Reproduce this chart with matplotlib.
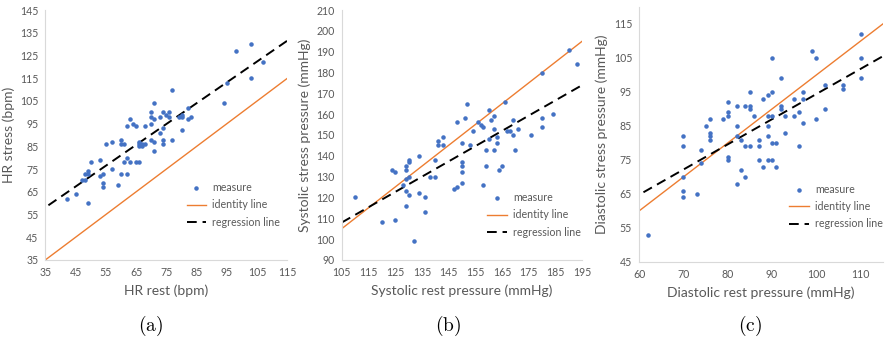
"""
Stress vs rest scatter plots for HR, systolic and diastolic pressure.
"""

import matplotlib
matplotlib.use('Agg')
import matplotlib.pyplot as plt
import numpy as np

# Panel (a): heart rate [bpm]
# ----------------------------------------------------------------------------

hr_rest = [42, 45, 47, 48, 48, 49, 49, 49, 50, 53, 53, 54, 54, 54, 55, 57, 57,
           59, 60, 60, 60, 61, 61, 62, 62, 62, 63, 63, 64, 65, 65, 66, 66, 66,
           66, 67, 67, 68, 68, 70, 70, 70, 70, 71, 71, 71, 71, 73, 73, 74, 74,
           74, 74, 75, 76, 76, 77, 77, 79, 80, 80, 80, 82, 82, 83, 94, 95, 98,
           103, 103, 107]
hr_stress = [62, 64, 70, 70, 73, 74, 73, 60, 78, 79, 72, 73, 69, 67, 86, 87, 75,
             68, 88, 86, 73, 86, 78, 80, 73, 94, 97, 78, 95, 94, 78, 78, 86, 87,
             85, 85, 86, 86, 94, 100, 98, 95, 88, 104, 97, 87, 83, 98, 91, 100, 93,
             88, 86, 99, 100, 98, 110, 88, 98, 98, 99, 92, 102, 97, 98, 104, 113, 127,
             130, 115, 122]
hr_fit = (0.918, 26.0)

# Panel (b): systolic pressure [mmHg]
# ----------------------------------------------------------------------------

sys_rest = [110, 120, 124, 125, 125, 128, 129, 129, 129, 129, 129, 130, 130, 130,
            130, 132, 134, 134, 136, 136, 138, 140, 140, 141, 141, 143, 143, 147,
            148, 148, 150, 150, 150, 150, 150, 151, 152, 153, 154, 156, 157, 158,
            158, 159, 159, 160, 160, 161, 162, 162, 162, 163, 163, 164, 165, 166,
            167, 168, 169, 169, 170, 171, 176, 180, 180, 180, 184, 190, 193]
sys_stress = [120, 108, 133, 132, 109, 126, 135, 133, 129, 123, 116, 138, 137, 130,
              121, 99, 140, 122, 120, 113, 130, 138, 130, 147, 145, 149, 145, 124,
              156, 125, 146, 137, 135, 132, 127, 158, 165, 145, 152, 156, 155, 154,
              126, 143, 135, 162, 148, 157, 159, 153, 143, 149, 146, 133, 135, 166,
              152, 152, 157, 150, 143, 153, 150, 180, 158, 154, 160, 191, 184]
sys_fit = (0.733, 31.0)

# Panel (c): diastolic pressure [mmHg]
# ----------------------------------------------------------------------------

dia_rest = [62, 70, 70, 70, 70, 70, 73, 74, 74, 75, 76, 76, 76, 76, 79, 80, 80,
            80, 80, 80, 82, 82, 82, 82, 83, 83, 84, 84, 84, 85, 85, 85, 85, 86,
            87, 87, 87, 88, 88, 89, 89, 89, 89, 89, 90, 90, 90, 90, 90, 91, 91,
            92, 92, 92, 93, 93, 95, 95, 96, 96, 97, 97, 97, 99, 100, 100, 102,
            102, 106, 106, 110, 110, 110]
dia_stress = [53, 82, 79, 70, 66, 64, 65, 78, 74, 85, 87, 83, 82, 81, 87, 92, 89,
              88, 76, 75, 91, 85, 82, 68, 81, 72, 91, 79, 70, 95, 91, 90, 79, 88,
              81, 79, 75, 93, 73, 94, 88, 85, 82, 75, 105, 95, 88, 80, 75, 80, 73,
              99, 91, 90, 88, 83, 93, 88, 89, 79, 95, 93, 86, 107, 105, 87, 97,
              90, 97, 96, 112, 105, 99]
dia_fit = (0.741, 20.3)

# Plot results
# ----------------------------------------------------------------------------

blue = '#4472C4'
orange = '#ED7D31'
grey = '#595959'

plt.rcParams['font.family'] = ['Lato', 'DejaVu Sans']

panels = [
    dict(x=hr_rest, y=hr_stress, fit=hr_fit, xlim=(35, 115), ylim=(35, 145),
         xt=np.arange(35, 116, 10), yt=np.arange(35, 146, 10), fit_x0=36,
         xlabel='HR rest (bpm)', ylabel='HR stress (bpm)', tag='(a)',
         pos=[0.051, 0.251, 0.272, 0.72], leg=(1.01, 0.09), cx=0.169),
    dict(x=sys_rest, y=sys_stress, fit=sys_fit, xlim=(105, 195), ylim=(90, 210),
         xt=np.arange(105, 196, 10), yt=np.arange(90, 211, 10), fit_x0=105,
         xlabel='Systolic rest pressure (mmHg)',
         ylabel='Systolic stress pressure (mmHg)', tag='(b)',
         pos=[0.384, 0.251, 0.27, 0.72], leg=(1.035, 0.05), cx=0.503),
    dict(x=dia_rest, y=dia_stress, fit=dia_fit, xlim=(60, 115), ylim=(45, 120),
         xt=np.arange(60, 111, 10), yt=np.arange(45, 116, 10), fit_x0=61,
         xlabel='Diastolic rest pressure (mmHg)',
         ylabel='Diastolic stress pressure (mmHg)', tag='(c)',
         pos=[0.718, 0.245, 0.274, 0.735], leg=(1.04, 0.09), cx=0.843),
]

fig = plt.figure(figsize=(8.9, 3.47), dpi=100)

for p in panels:
    ax = fig.add_axes(p['pos'])
    ax.scatter(p['x'], p['y'], s=5, color=blue, zorder=3, label='measure')
    xi = np.array(p['xlim'])
    ax.plot(xi, xi, color=orange, lw=1.0, label='identity line')
    xr = np.array([p['fit_x0'], p['xlim'][1]])
    a, b = p['fit']
    ax.plot(xr, a * xr + b, color='black', lw=1.4, ls=(0, (5, 3)),
            label='regression line')

    ax.set_xlim(p['xlim'])
    ax.set_ylim(p['ylim'])
    ax.set_xticks(p['xt'])
    ax.set_yticks(p['yt'])
    for s in ['top', 'right']:
        ax.spines[s].set_visible(False)
    for s in ['left', 'bottom']:
        ax.spines[s].set_color('#D9D9D9')
        ax.spines[s].set_linewidth(0.8)
    ax.tick_params(length=0, labelsize=7.6, colors=grey, pad=5)
    ax.set_xlabel(p['xlabel'], fontsize=10, color=grey, labelpad=5)
    ax.set_ylabel(p['ylabel'], fontsize=10, color=grey, labelpad=4)

    leg = ax.legend(loc='lower right', bbox_to_anchor=p['leg'], frameon=False,
                    fontsize=7.7, handlelength=1.8, labelspacing=0.6,
                    handletextpad=0.6, scatterpoints=1)
    for t in leg.get_texts():
        t.set_color(grey)

    fig.text(p['cx'], 0.06, r'$\mathrm{%s}$' % p['tag'], ha='center',
             va='center', fontsize=14, math_fontfamily='cm')

fig.savefig('out.png', dpi=100)
